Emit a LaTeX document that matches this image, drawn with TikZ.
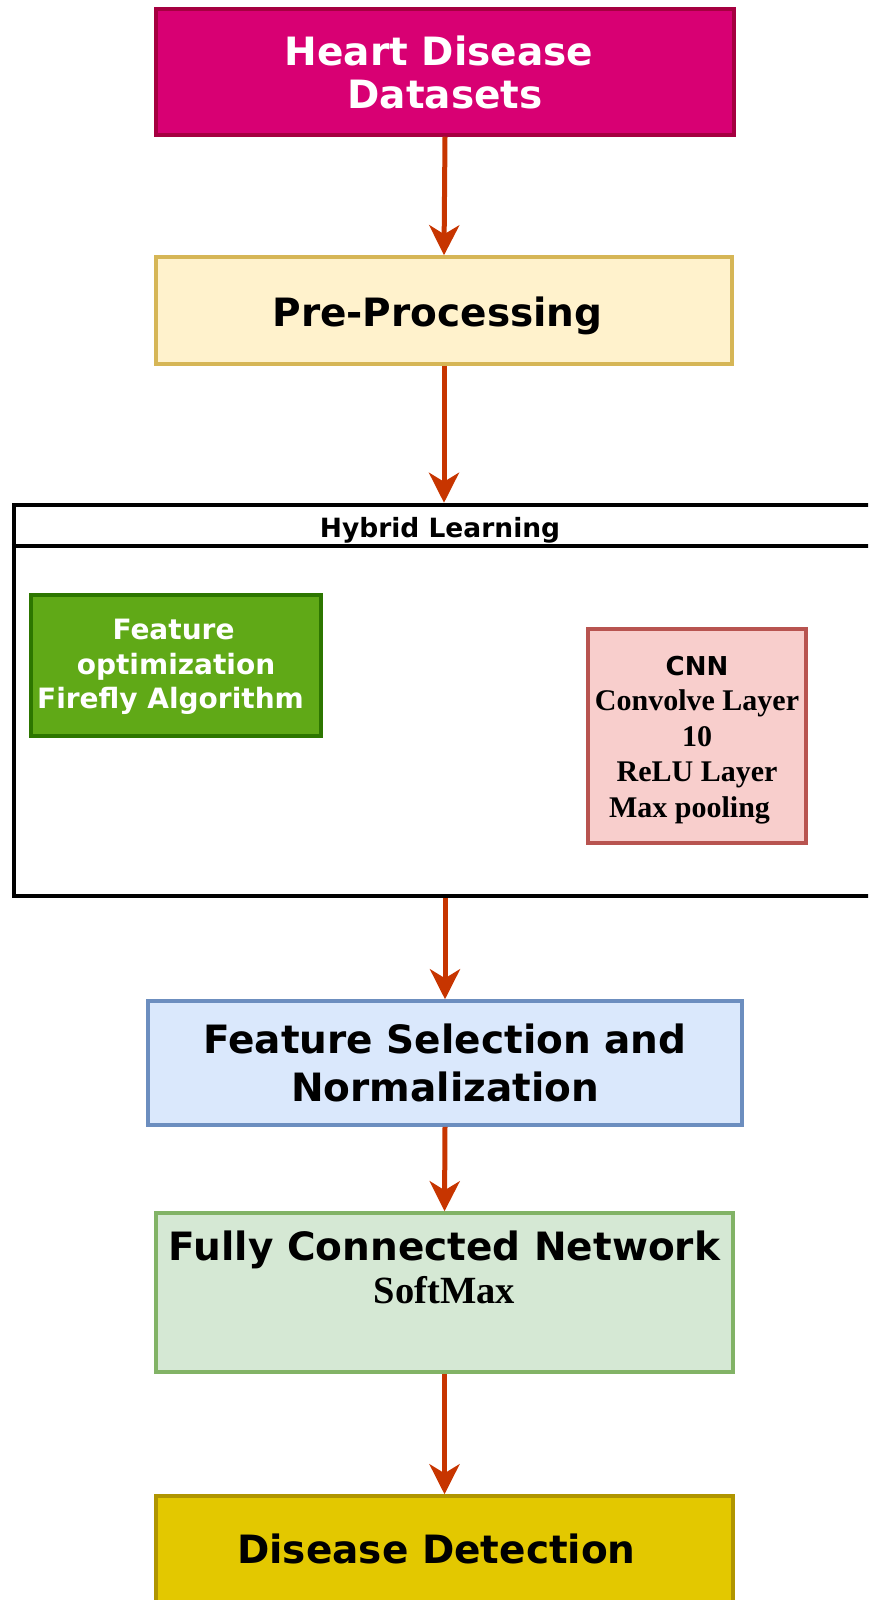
\documentclass[tikz,border=0pt]{standalone}
\usepackage{fontspec}
\usetikzlibrary{arrows.meta}
\newfontfamily\dvs{DejaVu Sans}
\newfontfamily\lsr{Liberation Serif}
\definecolor{heartf}{HTML}{D80073}
\definecolor{hearts}{HTML}{A50040}
\definecolor{pref}{HTML}{FFF2CC}
\definecolor{pres}{HTML}{D6B656}
\definecolor{greenf}{HTML}{60A917}
\definecolor{greens}{HTML}{2D7600}
\definecolor{cnnf}{HTML}{F8CECC}
\definecolor{cnns}{HTML}{B85450}
\definecolor{fself}{HTML}{DAE8FC}
\definecolor{fsels}{HTML}{6C8EBF}
\definecolor{fcnf}{HTML}{D5E8D4}
\definecolor{fcns}{HTML}{82B366}
\definecolor{detf}{HTML}{E3C800}
\definecolor{dets}{HTML}{B09500}
\definecolor{arrowc}{HTML}{C73500}
\tikzset{
  box/.style={draw, line width=3.5pt, rectangle, inner sep=0pt, align=center,
    font=\dvs\bfseries\fontsize{39}{44}\selectfont},
  flow/.style={draw=arrowc, line width=5pt, -{Stealth[length=30pt,width=30pt,inset=9pt]}},
  txt/.style={inner sep=0pt, align=center}
}
\begin{document}
\begin{tikzpicture}[x=1pt,y=-1pt]
\useasboundingbox (0,0) rectangle (868,1600);
\clip (0,0) rectangle (868,1600);

% top boxes
\node[box, fill=heartf, draw=hearts, text=white, minimum width=578pt, minimum height=126pt] (heart) at (445,72) {Heart Disease\hspace*{12pt}\\[-1pt]Datasets};
\node[box, fill=pref, draw=pres, minimum width=576pt, minimum height=107pt, text height=31pt, text depth=0pt] (pre) at (444,310.5) {Pre-Processing\hspace*{13pt}};

% hybrid container
\node[draw=black, line width=4.5pt, fill=white, minimum width=870pt, minimum height=391pt, inner sep=0pt] (hyb) at (449,700.5) {};
\draw[line width=4.5pt] (hyb.west |- 0,546) -- (hyb.east |- 0,546);
\node[txt, font=\dvs\bfseries\fontsize{26.5}{30}\selectfont, anchor=base] (hybt) at (440,537) {Hybrid Learning};

\node[box, fill=greenf, draw=greens, text=white, minimum width=290pt, minimum height=141pt,
  font=\dvs\bfseries\fontsize{28}{34.5}\selectfont] (green) at (176,665.5)
  {\rule{0pt}{24pt}Feature\hspace*{5pt}\\optimization\hspace*{12pt}\\Firefly Algorithm\hspace*{11pt}};
\node[box, fill=cnnf, draw=cnns, minimum width=218pt, minimum height=214pt,
  font=\lsr\bfseries\fontsize{30}{35.5}\selectfont] (cnn) at (697,736)
  {{\dvs\fontsize{26}{35.5}\selectfont\rule{0pt}{27pt}CNN}\\Convolve Layer\\10\\ReLU Layer\\Max pooling\hspace*{15pt}};

% lower boxes
\node[box, fill=fself, draw=fsels, minimum width=594pt, minimum height=124pt,
  font=\dvs\bfseries\fontsize{39}{48}\selectfont] (fsel) at (445,1063) {Feature Selection and\\Normalization};
\node[box, fill=fcnf, draw=fcns, minimum width=577pt, minimum height=159pt] (fcn) at (444.5,1292.5) {};
\node[txt, anchor=north, yshift=-19.4pt, font=\dvs\bfseries\fontsize{39}{43}\selectfont] (fcnt) at (fcn.north)
  {Fully Connected Network\\{\lsr\fontsize{38.5}{43}\selectfont SoftMax}};
\node[box, fill=detf, draw=dets, minimum width=577pt, minimum height=106pt, text height=28pt, text depth=0pt] (det) at (444.5,1549) {Disease Detection\hspace*{16pt}};

% connectors
\draw[flow] (heart.south) -- (pre.north);
\draw[flow] (pre.south) -- (pre.south |- hyb.north);
\draw[flow] (fsel.north |- hyb.south) -- (fsel.north);
\draw[flow] (fsel.south) -- (fcn.north);
\draw[flow] (fcn.south) -- (det.north);
\end{tikzpicture}
\end{document}
